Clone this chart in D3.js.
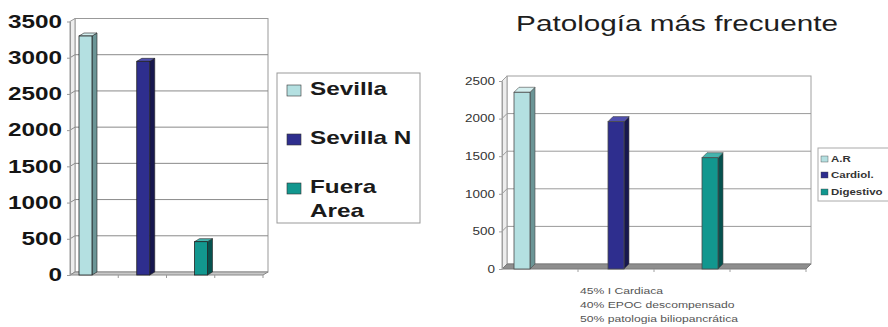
<!DOCTYPE html>
<html>
<head>
<meta charset="utf-8">
<script src="https://cdn.jsdelivr.net/npm/d3@7"></script>
<style>
  body { margin: 0; background: #fff; }
  svg { display: block; }
</style>
</head>
<body>
<svg id="chart" width="888" height="327"></svg>
<script>
// ---- data ----
const regionNames = ["Sevilla", "Sevilla N", "Fuera\nArea"];
const regionValues = [3300, 2950, 460];
const regionTicks = [0, 500, 1000, 1500, 2000, 2500, 3000, 3500];

const diseaseNames = ["A.R", "Cardiol.", "Digestivo"];
const diseaseValues = [2350, 1960, 1480];
const diseaseTicks = [0, 500, 1000, 1500, 2000, 2500];

const titleText = "Patología más frecuente";
const noteLines = ["45% I Cardiaca", "40% EPOC descompensado", "50% patologia biliopancrática"];

// ---- styles ----
const palette = [
  { front: "#b4e0e1", side: "#6b9596", top: "#d4efef" },
  { front: "#2e2e8e", side: "#17174e", top: "#5050b0" },
  { front: "#12978f", side: "#06524f", top: "#45b4ae" }
];
const SX = 1.35;                       // horizontal stretch applied to all text
const FONT = "'Liberation Sans', Arial, sans-serif";
const svg = d3.select("#chart");

function stretchedText(g, x, y, str) {
  return g.append("text")
    .attr("transform", `translate(${x},${y}) scale(${SX},1)`)
    .attr("font-family", FONT)
    .text(str);
}

function drawChart(cfg) {
  const g = svg.append("g");
  const maxV = d3.max(cfg.ticks);
  const y = d3.scaleLinear().domain([0, maxV]).range([cfg.y0, cfg.yTop]);
  const x = d3.scaleBand().domain(d3.range(4)).range([cfg.x0, cfg.x1]);
  const off = d3.scalePoint().domain(d3.range(cfg.values.length)).range(cfg.offsets);
  const dx = cfg.dx, dy = cfg.dy;
  const y0 = cfg.y0, yT = y(maxV);

  // back wall
  g.append("rect")
    .attr("x", cfg.x0 + dx).attr("y", yT + dy)
    .attr("width", cfg.x1 - cfg.x0).attr("height", y0 - yT)
    .attr("fill", "#fff").attr("stroke", cfg.wallStroke).attr("stroke-width", 1);

  // side wall
  g.append("path")
    .attr("d", `M${cfg.x0},${y0}L${cfg.x0},${yT}L${cfg.x0 + dx},${yT + dy}L${cfg.x0 + dx},${y0 + dy}Z`)
    .attr("fill", "#ededed").attr("stroke", cfg.wallStroke).attr("stroke-width", 1);

  // gridlines across side and back walls
  g.selectAll(".grid").data(cfg.ticks.filter(t => t > 0 && t < maxV)).join("path")
    .attr("d", t => `M${cfg.x0},${y(t)}L${cfg.x0 + dx},${y(t) + dy}L${cfg.x1 + dx},${y(t) + dy}`)
    .attr("fill", "none").attr("stroke", cfg.gridStroke).attr("stroke-width", 1);

  // floor
  g.append("path")
    .attr("d", `M${cfg.x0},${y0}L${cfg.x1},${y0}L${cfg.x1 + dx},${y0 + dy}L${cfg.x0 + dx},${y0 + dy}Z`)
    .attr("fill", cfg.floorFill).attr("stroke", cfg.floorStroke).attr("stroke-width", 1);

  // category boundary ticks
  g.selectAll(".ctick").data(x.domain()).join("line")
    .attr("x1", d => x(d) + x.bandwidth()).attr("x2", d => x(d) + x.bandwidth())
    .attr("y1", y0).attr("y2", y0 + 3)
    .attr("stroke", cfg.wallStroke);

  // 3D columns
  const bars = g.selectAll(".bar").data(cfg.values).join("g");
  bars.each(function (v, i) {
    const b = d3.select(this);
    const bx = x(i) + off(i), w = cfg.barW, yv = y(v);
    const c = palette[i];
    b.append("path")
      .attr("d", `M${bx + w},${yv}L${bx + w + dx},${yv + dy}L${bx + w + dx},${y0 + dy}L${bx + w},${y0}Z`)
      .attr("fill", c.side).attr("stroke", cfg.barStroke).attr("stroke-width", 0.6);
    b.append("path")
      .attr("d", `M${bx},${yv}L${bx + dx},${yv + dy}L${bx + w + dx},${yv + dy}L${bx + w},${yv}Z`)
      .attr("fill", c.top).attr("stroke", cfg.barStroke).attr("stroke-width", 0.6);
    b.append("rect")
      .attr("x", bx).attr("y", yv).attr("width", w).attr("height", y0 - yv)
      .attr("fill", c.front).attr("stroke", cfg.barStroke).attr("stroke-width", 0.8);
  });

  // value axis
  const ax = g.append("g").attr("transform", `translate(${cfg.x0},0)`)
    .call(d3.axisLeft(y).tickValues(cfg.ticks).tickSize(3).tickSizeOuter(0).tickFormat(d3.format("d")));
  ax.select(".domain").attr("stroke", cfg.wallStroke);
  ax.selectAll(".tick line").attr("stroke", cfg.wallStroke);
  ax.selectAll(".tick text")
    .attr("transform", `scale(${SX},1)`)
    .attr("x", -cfg.labelGap / SX)
    .attr("font-family", FONT)
    .attr("font-size", cfg.labelSize)
    .attr("font-weight", cfg.labelWeight)
    .attr("fill", cfg.labelColor);
  return g;
}

// ---- left chart: patients by origin ----
drawChart({
  values: regionValues, ticks: regionTicks,
  x0: 70, x1: 263, y0: 275, yTop: 21.5, dx: 5, dy: -3,
  offsets: [9, 28], barW: 13,
  wallStroke: "#999", gridStroke: "#8a8a8a", floorFill: "#c8c8c8", floorStroke: "#888",
  barStroke: "#222",
  labelGap: 8, labelSize: 18, labelWeight: "bold", labelColor: "#151515"
});

// left legend
{
  const lg = svg.append("g");
  lg.append("rect").attr("x", 277).attr("y", 73).attr("width", 143).attr("height", 150)
    .attr("fill", "#fff").attr("stroke", "#999");
  const rows = [85, 134, 183];
  regionNames.forEach((name, i) => {
    lg.append("rect").attr("x", 287).attr("y", rows[i]).attr("width", 14).attr("height", 11)
      .attr("fill", palette[i].front).attr("stroke", "#333").attr("stroke-width", 0.6);
    name.split("\n").forEach((line, j) => {
      stretchedText(lg, 310, rows[i] + 10 + j * 24, line)
        .attr("font-size", 18).attr("font-weight", "bold").attr("fill", "#1a1a1a");
    });
  });
}

// ---- right chart: most frequent pathology ----
stretchedText(svg, 677, 31, titleText)
  .attr("text-anchor", "middle").attr("font-size", 22).attr("fill", "#1e1e1e");

drawChart({
  values: diseaseValues, ticks: diseaseTicks,
  x0: 502, x1: 806, y0: 269, yTop: 81, dx: 5, dy: -5,
  offsets: [12, 48], barW: 16,
  wallStroke: "#a0a0a0", gridStroke: "#9a9a9a", floorFill: "#8e8e8e", floorStroke: "#7a7a7a",
  barStroke: "#4a4a4a",
  labelGap: 7, labelSize: 10, labelWeight: "normal", labelColor: "#333"
});

// right legend
{
  const lg = svg.append("g");
  lg.append("rect").attr("x", 818).attr("y", 148).attr("width", 80).attr("height", 53)
    .attr("fill", "#fff").attr("stroke", "#aaa");
  const rows = [156, 172, 189];
  diseaseNames.forEach((name, i) => {
    lg.append("rect").attr("x", 821).attr("y", rows[i]).attr("width", 7).attr("height", 6)
      .attr("fill", palette[i].front).attr("stroke", "#444").attr("stroke-width", 0.4);
    stretchedText(lg, 831, rows[i] + 6, name)
      .attr("font-size", 8.5).attr("font-weight", "bold").attr("fill", "#333");
  });
}

// notes under the right chart
{
  const ng = svg.append("g");
  noteLines.forEach((line, i) => {
    stretchedText(ng, 580, 294 + i * 14, line).attr("font-size", 9).attr("fill", "#555");
  });
}
</script>
</body>
</html>
